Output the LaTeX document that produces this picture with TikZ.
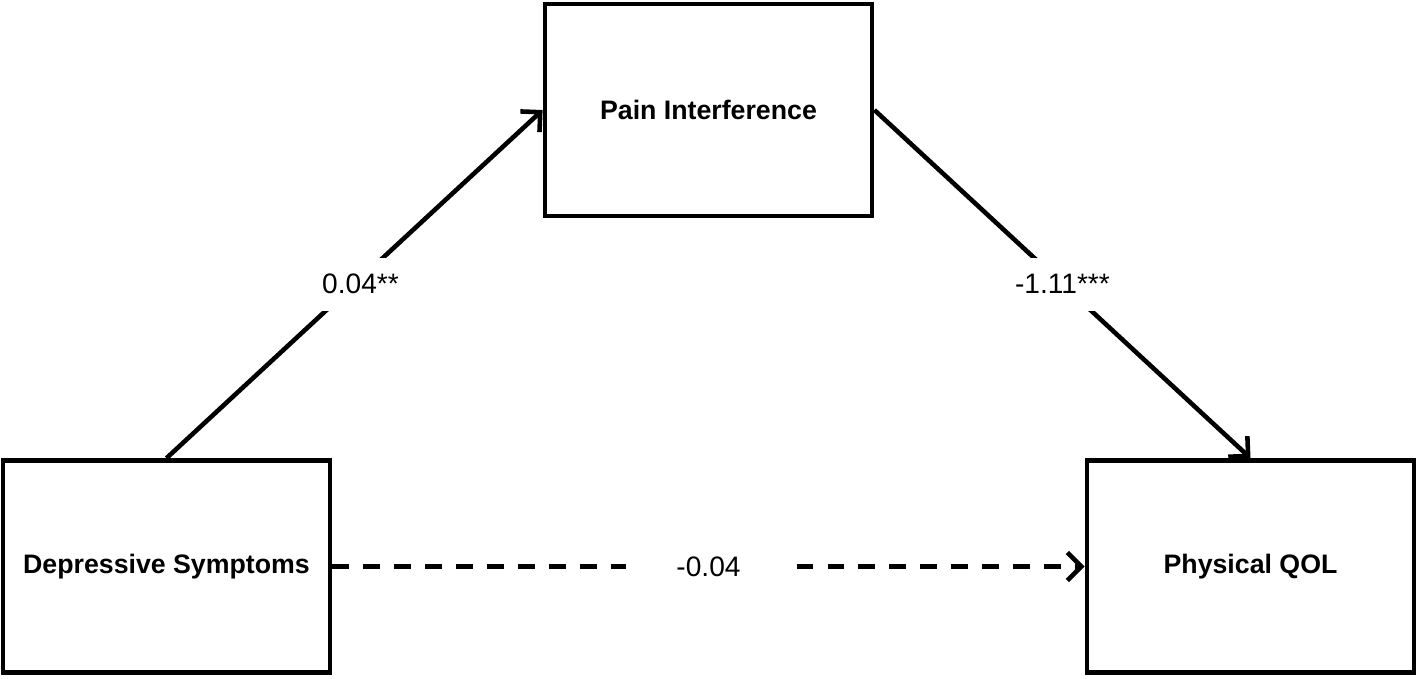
\documentclass[tikz,border=0pt]{standalone}
\usepackage{fontspec}
\setmainfont{Liberation Sans}
\usetikzlibrary{arrows.meta}

\begin{document}
\begin{tikzpicture}[x=0.01cm, y=-0.01cm,
		var/.style={draw, line width=1.3pt, minimum width=3.27cm, minimum height=2.12cm, inner sep=0pt, font=\fontsize{7.6}{9}\selectfont\bfseries},
		link/.style={line width=1.3pt, -{Straight Barb[length=4pt,width=8pt]}},
		coef/.style={fill=white, minimum width=1.65cm, minimum height=0.53cm, inner sep=0pt, font=\fontsize{8}{10}\selectfont}]
		\useasboundingbox (0,0) rectangle (1418,678);
		
		\node[var] (pain) at (708.5,110) {Pain Interference};
		\node[var] (dep) at (166.5,566.5) {Depressive Symptoms};
		\node[var] (qol) at (1250.5,566.5) {Physical QOL};
		
		\draw[link] (dep.north) -- node[coef, xshift=0.06cm] (a) {0.04**} (pain.west);
		\draw[link] (pain.east) -- node[coef] (b) {-1.11***} (qol.north);
		\draw[link, dash pattern=on 4.8pt off 4pt] (dep.east) -- node[coef] (c) {-0.04} (qol.west);
	\end{tikzpicture}
\end{document}
